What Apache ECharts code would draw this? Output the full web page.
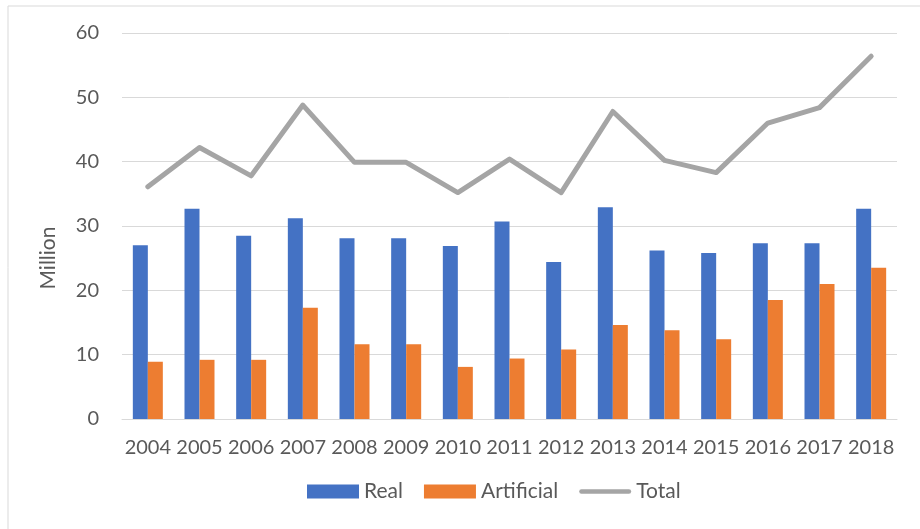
<!DOCTYPE html>
<html>
<head>
<meta charset="utf-8">
<script src="https://cdn.jsdelivr.net/npm/echarts@6/dist/echarts.min.js"></script>
<style>
html,body{margin:0;padding:0;background:#fff;}
#c{width:920px;height:529px;}
</style>
</head>
<body>
<div id="c"></div>
<script>
var categories = ['2004','2005','2006','2007','2008','2009','2010','2011','2012','2013','2014','2015','2016','2017','2018'];
var realValues = [27.0, 32.7, 28.5, 31.2, 28.1, 28.1, 26.9, 30.7, 24.4, 32.9, 26.2, 25.8, 27.3, 27.3, 32.7];
var artificialValues = [8.9, 9.2, 9.2, 17.3, 11.6, 11.6, 8.1, 9.4, 10.8, 14.6, 13.8, 12.4, 18.5, 21.0, 23.5];
var totalValues = [36.1, 42.2, 37.8, 48.8, 39.9, 39.9, 35.2, 40.4, 35.2, 47.8, 40.2, 38.3, 46.0, 48.4, 56.4];
var yTicks = {min: 0, max: 60, interval: 10};

var FONT = 'Lato';
var TXT = '#595959';
var chart = echarts.init(document.getElementById('c'));
chart.setOption({
  animation: false,
  backgroundColor: '#ffffff',
  textStyle: {fontFamily: FONT},
  grid: {left: 122, right: 23, top: 33, bottom: 110, containLabel: false},
  graphic: [
    {type: 'line', shape: {x1: 8, y1: 6, x2: 920, y2: 6}, style: {stroke: '#d9d9d9', lineWidth: 1}},
    {type: 'line', shape: {x1: 8, y1: 6, x2: 8, y2: 529}, style: {stroke: '#d9d9d9', lineWidth: 1}},
    {type: 'text', x: 48, y: 258, rotation: Math.PI / 2,
     style: {text: 'Million', fill: TXT, font: '21px ' + FONT, align: 'center', verticalAlign: 'middle'}}
  ],
  legend: {
    left: 307, top: 481, padding: 0,
    itemWidth: 52, itemHeight: 14, itemGap: 21,
    textStyle: {color: TXT, fontSize: 21, fontFamily: FONT},
    data: [
      {name: 'Real', icon: 'rect'},
      {name: 'Artificial', icon: 'rect'},
      {name: 'Total', icon: 'path://M2.5,0 L54.5,0 A2.5,2.5 0 0 1 54.5,5 L2.5,5 A2.5,2.5 0 0 1 2.5,0 Z'}
    ]
  },
  xAxis: {
    type: 'category',
    data: categories,
    axisLine: {lineStyle: {color: '#d9d9d9', width: 1}},
    axisTick: {show: false},
    axisLabel: {color: TXT, fontSize: 20, fontFamily: FONT, margin: 19, interval: 0}
  },
  yAxis: {
    type: 'value',
    min: yTicks.min, max: yTicks.max, interval: yTicks.interval,
    axisLine: {show: false},
    axisTick: {show: false},
    splitLine: {lineStyle: {color: '#d9d9d9', width: 1}},
    axisLabel: {color: TXT, fontSize: 20, fontFamily: FONT, margin: 23}
  },
  series: [
    {name: 'Real', type: 'bar', data: realValues, barWidth: 15, barGap: '0%',
     itemStyle: {color: '#4472C4'}},
    {name: 'Artificial', type: 'bar', data: artificialValues, barWidth: 15, barGap: '0%',
     itemStyle: {color: '#ED7D31'}},
    {name: 'Total', type: 'line', data: totalValues, symbol: 'none', showSymbol: false,
     itemStyle: {color: '#A5A5A5'},
     lineStyle: {color: '#A5A5A5', width: 5, cap: 'round', join: 'round'}}
  ]
});
</script>
</body>
</html>
